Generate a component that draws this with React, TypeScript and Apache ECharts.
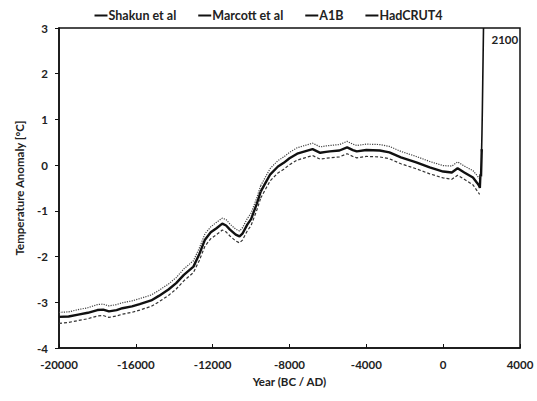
import React, { useEffect, useRef } from "react";
import * as echarts from "echarts";

// ---- Data ----
const shakunYears = [-20000, -19500, -19000, -18500, -18000, -17700, -17400, -17000, -16700, -16200, -15800, -15200, -14800, -14300, -13900, -13500, -13000, -12700, -12400, -12100, -11800, -11500, -11300, -11100, -10800, -10600, -10450, -10200, -10000, -9700, -9500];
const shakunMean = [-3.32, -3.31, -3.27, -3.23, -3.17, -3.16, -3.2, -3.17, -3.13, -3.09, -3.04, -2.96, -2.86, -2.72, -2.58, -2.4, -2.22, -1.95, -1.63, -1.47, -1.38, -1.28, -1.32, -1.41, -1.52, -1.56, -1.5, -1.3, -1.18, -0.84, -0.58];
const shakunUpper = [-3.22, -3.21, -3.16, -3.12, -3.05, -3.04, -3.08, -3.05, -3.01, -2.97, -2.92, -2.84, -2.74, -2.6, -2.46, -2.27, -2.09, -1.82, -1.5, -1.35, -1.25, -1.16, -1.19, -1.29, -1.4, -1.44, -1.37, -1.17, -1.05, -0.71, -0.45];
const shakunLower = [-3.46, -3.44, -3.4, -3.36, -3.3, -3.29, -3.33, -3.3, -3.26, -3.22, -3.17, -3.09, -2.99, -2.85, -2.71, -2.53, -2.35, -2.09, -1.77, -1.61, -1.52, -1.42, -1.46, -1.55, -1.66, -1.7, -1.64, -1.44, -1.32, -0.98, -0.72];

const marcottYears = [-9500, -9200, -9000, -8600, -8300, -8000, -7600, -7200, -6800, -6400, -6100, -5900, -5400, -5000, -4700, -4500, -4000, -3300, -2800, -2200, -1400, -700, 0, 450, 750, 1100, 1550, 1750, 1900];
const marcottMean = [-0.58, -0.35, -0.2, -0.03, 0.05, 0.15, 0.25, 0.3, 0.35, 0.27, 0.29, 0.3, 0.32, 0.39, 0.33, 0.3, 0.33, 0.32, 0.28, 0.17, 0.06, -0.05, -0.14, -0.16, -0.07, -0.16, -0.27, -0.38, -0.46];
const marcottUpper = [-0.45, -0.22, -0.07, 0.1, 0.18, 0.28, 0.38, 0.43, 0.48, 0.4, 0.42, 0.43, 0.45, 0.52, 0.46, 0.43, 0.46, 0.45, 0.41, 0.3, 0.19, 0.08, -0.01, -0.02, 0.07, -0.02, -0.12, -0.22, -0.3];
const marcottLower = [-0.72, -0.49, -0.34, -0.17, -0.09, 0.01, 0.11, 0.16, 0.21, 0.13, 0.15, 0.16, 0.18, 0.25, 0.19, 0.16, 0.19, 0.18, 0.14, 0.03, -0.08, -0.19, -0.28, -0.31, -0.22, -0.31, -0.43, -0.55, -0.64];

const hadYears = [1850, 1880, 1910, 1940, 1970, 2000, 2010];
const hadValues = [-0.42, -0.45, -0.5, -0.2, -0.25, 0.2, 0.35];

const a1bYears = [2000, 2020, 2040, 2060, 2080, 2100];
const a1bValues = [0.3, 0.7, 1.2, 1.8, 2.4, 3.0];

const xTickInterval = 4000;
const yTickInterval = 1;

const pairs = (xs: number[], ys: number[]) => xs.map((x, i) => [x, ys[i]]);

export default function App() {
  const ref = useRef<HTMLDivElement>(null);
  useEffect(() => {
    if (!ref.current) return;
    const chart = echarts.init(ref.current, undefined, { renderer: "svg" });
    const font = "Lato, 'Open Sans', sans-serif";
    const black = "#111";
    const textColor = "#222";
    const bandUpper = { color: "#444", width: 1.2, type: "dotted" as const };
    const bandLower = { color: "#333", width: 1.2, type: [3, 2] as any };
    chart.setOption({
      animation: false,
      backgroundColor: "#fff",
      textStyle: { fontFamily: font },
      legend: {
        top: 4,
        left: "center",
        icon: "rect",
        itemWidth: 13,
        itemHeight: 2,
        itemGap: 22,
        data: ["Shakun et al", "Marcott et al", "A1B", "HadCRUT4"],
        textStyle: { fontSize: 12.5, color: textColor, fontFamily: font, fontWeight: "bold", padding: [0, 0, 0, -4] },
      },
      grid: {
        left: 59,
        right: 17,
        top: 28,
        bottom: 53,
        show: true,
        borderColor: black,
        borderWidth: 1.5,
        backgroundColor: "transparent",
      },
      xAxis: {
        type: "value",
        min: -20000,
        max: 4000,
        interval: xTickInterval,
        name: "Year (BC / AD)",
        nameLocation: "middle",
        nameGap: 27,
        nameTextStyle: { fontSize: 11.5, color: textColor, fontWeight: "bold", fontFamily: font },
        axisLine: { show: true, onZero: false, lineStyle: { color: black, width: 1.5 } },
        axisTick: { show: true, inside: true, length: 4, lineStyle: { color: black } },
        axisLabel: { fontSize: 11.5, color: textColor, margin: 10, fontWeight: "bold", fontFamily: font, formatter: (v: number) => String(v) },
        splitLine: { show: false },
      },
      yAxis: {
        type: "value",
        min: -4,
        max: 3,
        interval: yTickInterval,
        name: "Temperature Anomaly [°C]",
        nameLocation: "middle",
        nameGap: 34,
        nameTextStyle: { fontSize: 11.5, color: textColor, fontWeight: "bold", fontFamily: font },
        axisLine: { show: true, onZero: false, lineStyle: { color: black, width: 1.5 } },
        axisTick: { show: true, inside: false, length: 4, lineStyle: { color: black } },
        axisLabel: { fontSize: 11.5, color: textColor, margin: 11, fontWeight: "bold", fontFamily: font, formatter: (v: number) => String(v) },
        splitLine: { show: false },
      },
      series: [
        {
          name: "Shakun et al",
          type: "line",
          data: pairs(shakunYears, shakunMean),
          symbol: "none",
          lineStyle: { color: black, width: 2.4 },
          itemStyle: { color: black },
          z: 3,
        },
        { name: "Shakun upper", type: "line", data: pairs(shakunYears, shakunUpper), symbol: "none", lineStyle: bandUpper, itemStyle: { color: "#444" } },
        { name: "Shakun lower", type: "line", data: pairs(shakunYears, shakunLower), symbol: "none", lineStyle: bandLower, itemStyle: { color: "#333" } },
        {
          name: "Marcott et al",
          type: "line",
          data: pairs(marcottYears, marcottMean),
          symbol: "none",
          lineStyle: { color: black, width: 2.4 },
          itemStyle: { color: black },
          z: 3,
        },
        { name: "Marcott upper", type: "line", data: pairs(marcottYears, marcottUpper), symbol: "none", lineStyle: bandUpper, itemStyle: { color: "#444" } },
        { name: "Marcott lower", type: "line", data: pairs(marcottYears, marcottLower), symbol: "none", lineStyle: bandLower, itemStyle: { color: "#333" } },
        {
          name: "A1B",
          type: "line",
          data: pairs(a1bYears, a1bValues),
          symbol: "none",
          lineStyle: { color: black, width: 1.6 },
          itemStyle: { color: black },
          endLabel: {
            show: true,
            formatter: () => String(a1bYears[a1bYears.length - 1]),
            offset: [0, 11],
            fontSize: 11.5,
            color: textColor,
            fontWeight: "bold",
            fontFamily: font,
          },
          z: 4,
        },
        {
          name: "HadCRUT4",
          type: "line",
          data: pairs(hadYears, hadValues),
          symbol: "none",
          lineStyle: { color: black, width: 2.4 },
          itemStyle: { color: black },
          z: 4,
        },
      ],
    });
    return () => chart.dispose();
  }, []);
  return (
    <div
      ref={ref}
      style={{ position: "absolute", left: 0, top: 0, width: 537, height: 401, background: "#fff" }}
    />
  );
}
